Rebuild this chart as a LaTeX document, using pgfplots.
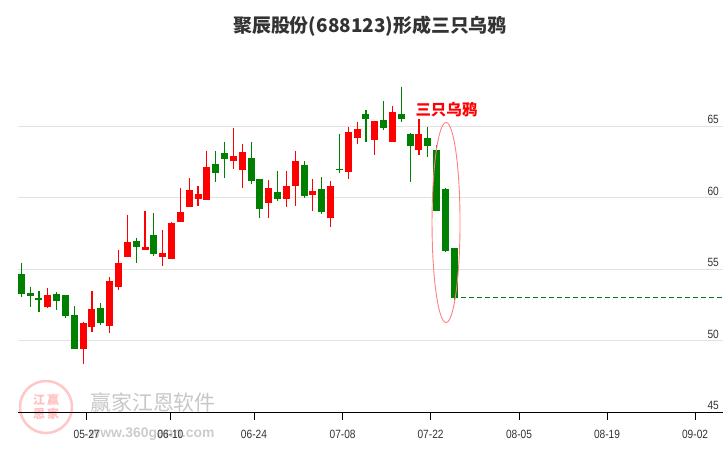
\documentclass[border=0pt]{standalone}
\usepackage{pgfplots}
\pgfplotsset{compat=1.18}
\usepackage{pgfplotstable}
\usepackage{fontspec}
\setmainfont{Liberation Sans}
\newfontfamily\cjk{Noto Sans CJK SC}
\newfontfamily\tickfont{Liberation Sans}[FakeStretch=0.85]
\definecolor{cred}{RGB}{255,0,0}
\definecolor{cgreen}{RGB}{0,128,0}
\definecolor{gridc}{RGB}{226,226,226}
\definecolor{txt}{RGB}{51,51,51}

% up (red) candles: i O H L C
\pgfplotstableread{
i O H L C
3 52.36 53.67 52.29 53.18
7 49.43 51.29 48.38 51.22
8 50.97 53.46 50.62 52.20
10 51.03 54.44 50.55 54.16
11 53.76 56.33 53.55 55.40
12 55.86 58.78 55.86 56.89
14 56.35 59.06 56.35 56.54
16 55.86 57.73 55.23 56.12
17 55.72 58.29 55.72 58.22
18 58.31 60.66 58.31 58.99
19 59.36 61.36 59.36 60.52
20 59.92 60.80 59.43 60.24
21 59.85 63.25 59.85 62.13
24 62.57 64.86 62.01 62.90
25 61.94 63.74 60.69 63.18
28 59.64 61.22 58.59 60.66
30 59.92 61.85 59.36 60.80
31 60.83 63.25 59.43 62.55
33 60.20 61.29 59.08 60.45
35 58.59 61.15 57.96 60.80
37 61.80 64.93 61.31 64.58
38 64.18 65.28 63.76 64.79
40 64.04 65.35 62.99 65.35
42 63.90 66.40 63.90 65.98
45 63.34 65.49 62.99 64.44
}\uptab

% down (green) candles: i O H L C
\pgfplotstableread{
i O H L C
0 54.65 55.42 53.02 53.27
1 53.32 53.74 52.36 53.13
2 52.97 53.46 52.01 52.85
4 53.25 53.39 52.13 52.78
5 53.18 53.18 51.59 51.73
6 51.78 52.41 49.43 49.43
9 52.27 52.62 51.10 51.22
13 56.96 57.17 55.44 56.56
15 57.38 58.92 55.93 56.07
22 62.34 63.25 61.10 61.73
23 63.11 63.88 61.38 62.71
26 62.76 63.88 60.97 61.17
27 61.29 61.29 58.59 59.22
29 60.38 61.85 59.78 59.92
32 62.27 62.55 59.99 60.13
34 60.59 61.43 58.87 59.01
36 61.99 64.44 61.73 61.92
39 65.84 66.12 63.90 65.49
41 65.42 66.75 64.74 64.88
43 65.84 67.73 65.30 65.51
44 64.44 64.51 61.06 63.62
46 64.16 64.93 62.85 63.62
47 63.32 63.67 59.08 59.08
48 60.59 60.66 56.21 56.28
49 56.47 56.47 52.85 53.00
}\downtab

\begin{document}
\begin{tikzpicture}
% watermark
\draw[red!22, line width=2.5bp] (46bp,43bp) circle (26bp);
\node[text=red!25, font=\cjk\bfseries\fontsize{12}{12}\selectfont, inner sep=0pt] at (39bp,50bp) {江};
\node[text=red!25, font=\cjk\bfseries\fontsize{12}{12}\selectfont, inner sep=0pt] at (53bp,50bp) {赢};
\node[text=red!25, font=\cjk\bfseries\fontsize{12}{12}\selectfont, inner sep=0pt] at (39bp,36bp) {恩};
\node[text=red!25, font=\cjk\bfseries\fontsize{12}{12}\selectfont, inner sep=0pt] at (53bp,36bp) {家};
\node[text=black!22, font=\cjk\fontsize{21}{21}\selectfont, inner sep=0pt] at (153bp,48bp) {赢家江恩软件};
\node[text=black!20, font=\fontsize{14}{14}\selectfont\bfseries, inner sep=0pt] at (152bp,16bp) {www.360gann.com};

\begin{axis}[
  at={(18bp,38bp)}, anchor=south west,
  scale only axis, width=705bp, height=357.5bp,
  xmin=-0.373, xmax=79.4, ymin=45, ymax=70,
  axis x line*=bottom, axis y line*=right,
  y axis line style={draw=none},
  x axis line style={draw=black, line width=0.8bp},
  ytick={45,50,55,60,65},
  ymajorgrids, grid style={draw=gridc, line width=0.8bp},
  ytick style={draw=none},
  yticklabel style={anchor=south east, inner sep=1bp, xshift=-11bp, yshift=1bp, font=\tickfont\fontsize{12}{12}\selectfont, text=txt},
  xtick={7.39,16.87,26.33,36.36,46.31,56.32,66.28,76.24},
  xticklabels={05-27,06-10,06-24,07-08,07-22,08-05,08-19,09-02},
  xtick style={draw=black, line width=0.8bp},
  tick align=outside, major tick length=8bp,
  xticklabel style={font=\tickfont\fontsize{12}{12}\selectfont, text=txt, yshift=-7bp},
  /pgf/number format/assume math mode=true,
  clip=false,
]
% wicks
\addplot[draw=none, no markers, forget plot,
  error bars/.cd, y dir=minus, y explicit, error mark=none,
  error bar style={draw=cred, line width=1.1bp}]
  table[x=i, y=H, y error minus expr=\thisrow{H}-\thisrow{L}] {\uptab};
\addplot[draw=none, no markers, forget plot,
  error bars/.cd, y dir=minus, y explicit, error mark=none,
  error bar style={draw=cgreen, line width=1.1bp}]
  table[x=i, y=H, y error minus expr=\thisrow{H}-\thisrow{L}] {\downtab};
% bodies
\addplot[draw=none, no markers, forget plot,
  error bars/.cd, y dir=minus, y explicit, error mark=none,
  error bar style={draw=cred, line width=7bp}]
  table[x=i, y=C, y error minus expr=\thisrow{C}-\thisrow{O}] {\uptab};
\addplot[draw=none, no markers, forget plot,
  error bars/.cd, y dir=minus, y explicit, error mark=none,
  error bar style={draw=cgreen, line width=7bp}]
  table[x=i, y=O, y error minus expr=\thisrow{O}-\thisrow{C}] {\downtab};
% last close dashed line
\addplot[cgreen, line width=0.8bp, dash pattern=on 5bp off 3bp] coordinates {(49.7,53.0) (79.4,53.0)};
% annotation
\draw[red!50, line width=0.9bp] (axis cs:48.06,58.25) ellipse [x radius=14bp, y radius=100bp];
\node[text=cred, font=\cjk\bfseries\fontsize{15.5}{15.5}\selectfont, inner sep=0pt] at (axis cs:48.1,66.12) {三只乌鸦};
\end{axis}
\node[text=txt, font=\cjk\bfseries\fontsize{19}{19}\selectfont, inner sep=0pt] at (370bp,424bp) {聚辰股份(688123)形成三只乌鸦};
\pgfresetboundingbox
\path[use as bounding box] (0,0) rectangle (726bp,450bp);
\end{tikzpicture}
\end{document}
